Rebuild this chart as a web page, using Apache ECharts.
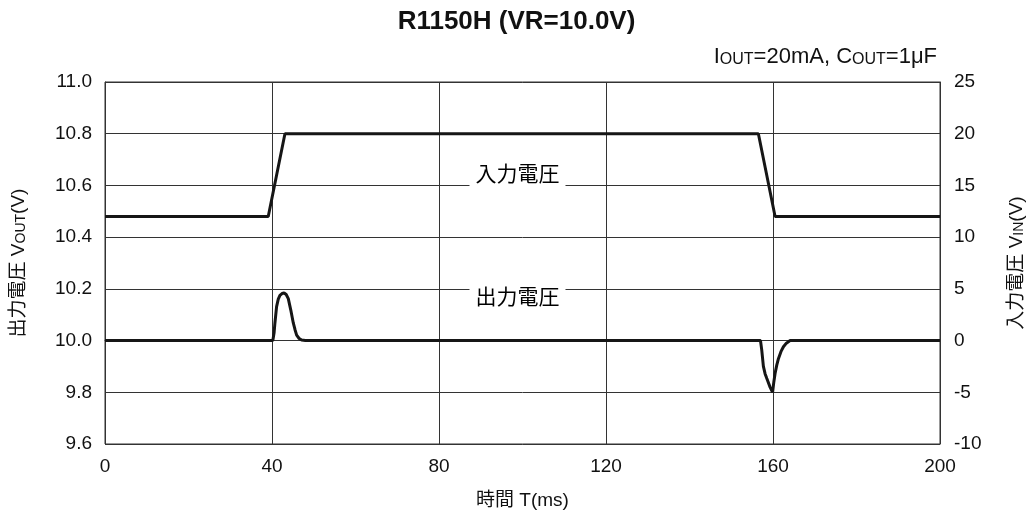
<!DOCTYPE html>
<html>
<head>
<meta charset="utf-8">
<script src="https://cdn.jsdelivr.net/npm/echarts@6/dist/echarts.min.js"></script>
<style>html,body{margin:0;padding:0;background:#fff;}#c{width:1033px;height:518px;}</style>
</head>
<body>
<div id="c"></div>
<script>
// ---- data ----
var titleText = 'R1150H (VR=10.0V)';
var xTicks = [0, 40, 80, 120, 160, 200];
var leftTicks = [9.6, 9.8, 10.0, 10.2, 10.4, 10.6, 10.8, 11.0];
var rightTicks = [-10, -5, 0, 5, 10, 15, 20, 25];
// output voltage (left axis, V) : [time ms, V]
var vout = [
  [0, 10.0], [40.2, 10.0], [40.5, 10.03], [40.7, 10.068], [41.1, 10.131], [41.5, 10.16],
  [41.9, 10.175], [42.4, 10.182], [42.9, 10.184], [43.4, 10.178], [43.9, 10.162],
  [44.2, 10.14], [44.5, 10.118], [45.1, 10.068], [45.5, 10.043], [45.9, 10.021],
  [46.5, 10.008], [47.1, 10.002], [48, 10.0],
  [157.0, 10.0], [157.3, 9.964], [157.7, 9.90], [158.1, 9.872], [158.5, 9.854],
  [159.3, 9.82], [159.9, 9.80], [160.2, 9.84], [160.5, 9.873], [160.9, 9.905],
  [161.3, 9.93], [161.9, 9.957], [162.5, 9.976], [163.2, 9.99], [164.1, 10.0], [200, 10.0]
];
// input voltage (right axis, V)
var vin = [[0, 12], [39.1, 12], [43.1, 20], [156.5, 20], [160.5, 12], [200, 12]];
// curve labels
var curveLabels = [
  {pos: [98.8, 10.64], text: '入力電圧'},
  {pos: [98.8, 10.165], text: '出力電圧'}
];
var noteText = '{b|I}{s|OUT}{b|=20mA, C}{s|OUT}{b|=1μF}';

var FONT = "'Liberation Sans', Arial, 'Noto Sans CJK JP', sans-serif";
var chart = echarts.init(document.getElementById('c'));
var gridLine = {show: true, lineStyle: {color: '#333', width: 1}};
chart.setOption({
  animation: false,
  backgroundColor: '#fff',
  textStyle: {fontFamily: FONT},
  title: [{
    text: titleText, left: 'center', top: 4,
    textStyle: {fontFamily: FONT, fontSize: 26, fontWeight: 'bold', color: '#111'}
  }, {
    text: noteText, right: 91, top: 41,
    textStyle: {
      fontFamily: FONT, fontWeight: 'normal',
      rich: {
        b: {fontFamily: FONT, fontSize: 22, fontWeight: 'normal', color: '#111'},
        s: {fontFamily: FONT, fontSize: 16, fontWeight: 'normal', color: '#111', verticalAlign: 'bottom', padding: [5, 0, 0, 0]}
      }
    }
  }],
  grid: {left: 105, right: 93, top: 82, bottom: 74, show: true, borderColor: '#333', borderWidth: 1,
    containLabel: false, outerBoundsMode: 'none'},
  xAxis: {
    type: 'value', min: 0, max: 200, interval: 40,
    name: '時間 T(ms)', nameLocation: 'middle', nameGap: 47,
    nameTextStyle: {fontFamily: FONT, fontSize: 19, color: '#111'},
    axisLine: {show: true, lineStyle: {color: '#333'}},
    axisTick: {show: false},
    axisLabel: {fontFamily: FONT, fontSize: 19, color: '#111', margin: 13,
      formatter: function (v) { return xTicks.indexOf(v) >= 0 ? String(v) : ''; }},
    splitLine: gridLine
  },
  yAxis: [{
    type: 'value', min: 9.6, max: 11.0, interval: 0.2, position: 'left',
    name: '{c|出力電圧 V}{s|OUT}{c|(V)}', nameLocation: 'middle', nameGap: 77, nameRotate: 90,
    nameTextStyle: {fontFamily: FONT, fontSize: 19, color: '#111',
      rich: {c: {fontFamily: FONT, fontSize: 19, color: '#111'},
             s: {fontFamily: FONT, fontSize: 14, color: '#111', verticalAlign: 'bottom', padding: [3, 0, 0, 0]}}},
    axisLine: {show: true, lineStyle: {color: '#333'}},
    axisTick: {show: false},
    axisLabel: {fontFamily: FONT, fontSize: 19, color: '#111', margin: 13,
      formatter: function (v) {
        for (var i = 0; i < leftTicks.length; i++) if (Math.abs(leftTicks[i] - v) < 1e-6) return leftTicks[i].toFixed(1);
        return '';
      }},
    splitLine: gridLine
  }, {
    type: 'value', min: -10, max: 25, interval: 5, position: 'right',
    name: '{c|入力電圧 V}{s|IN}{c|(V)}', nameLocation: 'middle', nameGap: 67, nameRotate: 90,
    nameTextStyle: {fontFamily: FONT, fontSize: 19, color: '#111',
      rich: {c: {fontFamily: FONT, fontSize: 19, color: '#111'},
             s: {fontFamily: FONT, fontSize: 14, color: '#111', verticalAlign: 'bottom', padding: [3, 0, 0, 0]}}},
    axisLine: {show: true, lineStyle: {color: '#333'}},
    axisTick: {show: false},
    axisLabel: {fontFamily: FONT, fontSize: 19, color: '#111', margin: 14,
      formatter: function (v) { return rightTicks.indexOf(v) >= 0 ? String(v) : ''; }},
    splitLine: {show: false}
  }],
  series: [{
    type: 'line', name: 'vout', yAxisIndex: 0, data: vout, showSymbol: false, symbol: 'none',
    lineStyle: {color: '#161616', width: 3}, z: 3
  }, {
    type: 'line', name: 'vin', yAxisIndex: 1, data: vin, showSymbol: false, symbol: 'none',
    lineStyle: {color: '#161616', width: 3}, z: 3
  }, {
    type: 'scatter', yAxisIndex: 0, symbolSize: 0, z: 4, itemStyle: {opacity: 1},
    data: curveLabels.map(function (d) { return {value: d.pos, name: d.text}; }),
    label: {show: true, position: 'inside', formatter: '{b}', fontFamily: FONT, fontSize: 21,
      fontWeight: 'normal', color: '#000', opacity: 1, textBorderWidth: 0,
      backgroundColor: '#fff', padding: [3, 6, 3, 6], lineHeight: 22}
  }]
});
</script>
</body>
</html>
